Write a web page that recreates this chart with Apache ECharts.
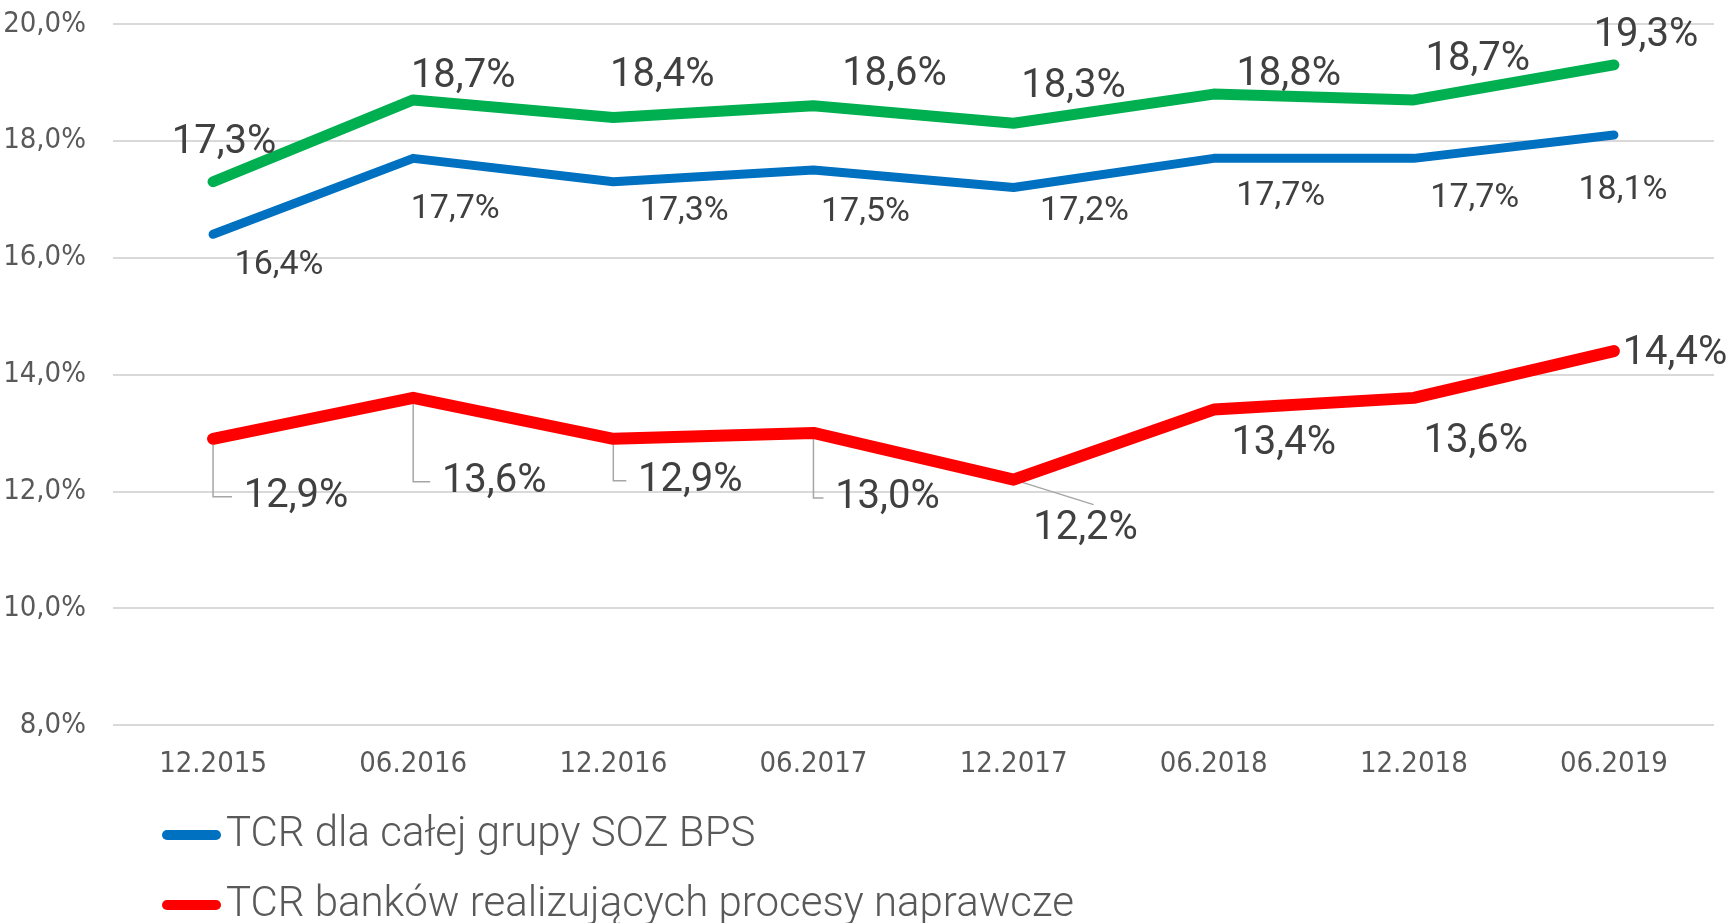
<!DOCTYPE html>
<html>
<head>
<meta charset="utf-8">
<title>TCR</title>
<script src="https://cdn.jsdelivr.net/npm/echarts@6/dist/echarts.min.js"></script>
<style>
  html, body { margin: 0; padding: 0; background: #fff; }
  #chart { width: 1731px; height: 923px; }
</style>
</head>
<body>
<div id="chart"></div>
<script>
// Periods on the x axis
const periods = ["12.2015", "06.2016", "12.2016", "06.2017", "12.2017", "06.2018", "12.2018", "06.2019"];

// TCR values, in %
const tcrGroup = [16.4, 17.7, 17.3, 17.5, 17.2, 17.7, 17.7, 18.1];
const tcrRecovery = [12.9, 13.6, 12.9, 13.0, 12.2, 13.4, 13.6, 14.4];
const tcrGreen = [17.3, 18.7, 18.4, 18.6, 18.3, 18.8, 18.7, 19.3];

const seriesNames = ["TCR dla całej grupy SOZ BPS", "TCR banków realizujących procesy naprawcze", "TCR"];

// Hand-placed label offsets (px, relative to the point), as in the source
const groupLabelShift = [[66, 31], [42, 51], [71, 30], [52, 42], [71, 24], [67, 38], [61, 40], [9, 56]];
const recoveryLabelShift = [[83, 58], [81, 84], [77, 42], [74, 65], [72, 49], [70, 34], [62, 44], [61, 3]];
const greenLabelShift = [[11, -39], [50, -23], [49, -41], [81, -31], [60, -36], [75, -19], [64, -40], [32, -29]];
// leader line kind for the red labels: elbow, diagonal or none
const recoveryLeader = ["elbow", "elbow", "elbow", "elbow", "diag", "", "", ""];

const pct = (v) => v.toFixed(1).replace(".", ",") + "%";

function makeSeries(name, values, color, width, fontSize, shifts) {
  return {
    name: name,
    type: "line",
    data: values,
    symbol: "circle",
    symbolSize: 1,
    showSymbol: true,
    itemStyle: { color: color },
    lineStyle: { color: color, width: width, cap: "round", join: "round" },
    label: {
      show: true,
      position: "inside",
      formatter: (p) => pct(p.value),
      fontFamily: "Roboto",
      fontSize: fontSize,
      color: "#404040",
    },
    labelLayout: (p) => ({ dx: shifts[p.dataIndex][0], dy: shifts[p.dataIndex][1] }),
    z: 3,
  };
}

// leader lines from the red points to their labels
const leaderSeries = {
  type: "custom",
  name: "leaders",
  silent: true,
  z: 1,
  data: tcrRecovery.map((v, i) => [i, v]),
  renderItem: (params, api) => {
    const i = params.dataIndex;
    const kind = recoveryLeader[i];
    if (!kind) return null;
    const p = api.coord([api.value(0), api.value(1)]);
    const [dx, dy] = recoveryLabelShift[i];
    let pts;
    if (kind === "elbow") {
      pts = [[p[0], p[1] + 6], [p[0], p[1] + dy], [p[0] + dx - 64, p[1] + dy]];
    } else {
      pts = [[p[0], p[1]], [p[0] + dx + 8, p[1] + dy - 24]];
    }
    return {
      type: "polyline",
      shape: { points: pts },
      style: { stroke: "#a6a6a6", lineWidth: 1.5, fill: null },
    };
  },
};

const legendText = {
  fontFamily: "Roboto",
  fontWeight: 300,
  fontSize: 42,
  lineHeight: 44,
  color: "#595959",
};
const legendIcon = "path://M5,0 H54 A5,5 0 0 1 54,10 H5 A5,5 0 0 1 5,0 Z";

const chart = echarts.init(document.getElementById("chart"));

chart.setOption({
  animation: false,
  grid: { left: 113, right: 17, top: 24, bottom: 198 },
  legend: [
    {
      data: [seriesNames[0]],
      left: 157,
      top: 808,
      itemWidth: 59,
      itemHeight: 10,
      icon: legendIcon,
      textStyle: legendText,
    },
    {
      data: [seriesNames[1]],
      left: 157,
      top: 878,
      itemWidth: 59,
      itemHeight: 10,
      icon: legendIcon,
      textStyle: legendText,
    },
  ],
  xAxis: {
    type: "category",
    data: periods,
    axisLine: { show: false },
    axisTick: { show: false },
    axisLabel: {
      margin: 25,
      fontFamily: "Liberation Sans Narrow, DejaVu Sans Condensed, sans-serif",
      fontSize: 29,
      color: "#595959",
    },
  },
  yAxis: {
    type: "value",
    min: 8,
    max: 20,
    interval: 2,
    axisLine: { show: false },
    axisTick: { show: false },
    splitLine: { lineStyle: { color: "#d9d9d9", width: 2 } },
    axisLabel: {
      margin: 27,
      formatter: (v) => pct(v),
      fontFamily: "Liberation Sans Narrow, DejaVu Sans Condensed, sans-serif",
      fontSize: 29,
      color: "#595959",
    },
  },
  series: [
    leaderSeries,
    makeSeries(seriesNames[0], tcrGroup, "#0070c0", 9, 34, groupLabelShift),
    makeSeries(seriesNames[1], tcrRecovery, "#ff0000", 12, 40, recoveryLabelShift),
    makeSeries(seriesNames[2], tcrGreen, "#00b050", 11, 40, greenLabelShift),
  ],
});
</script>
</body>
</html>
